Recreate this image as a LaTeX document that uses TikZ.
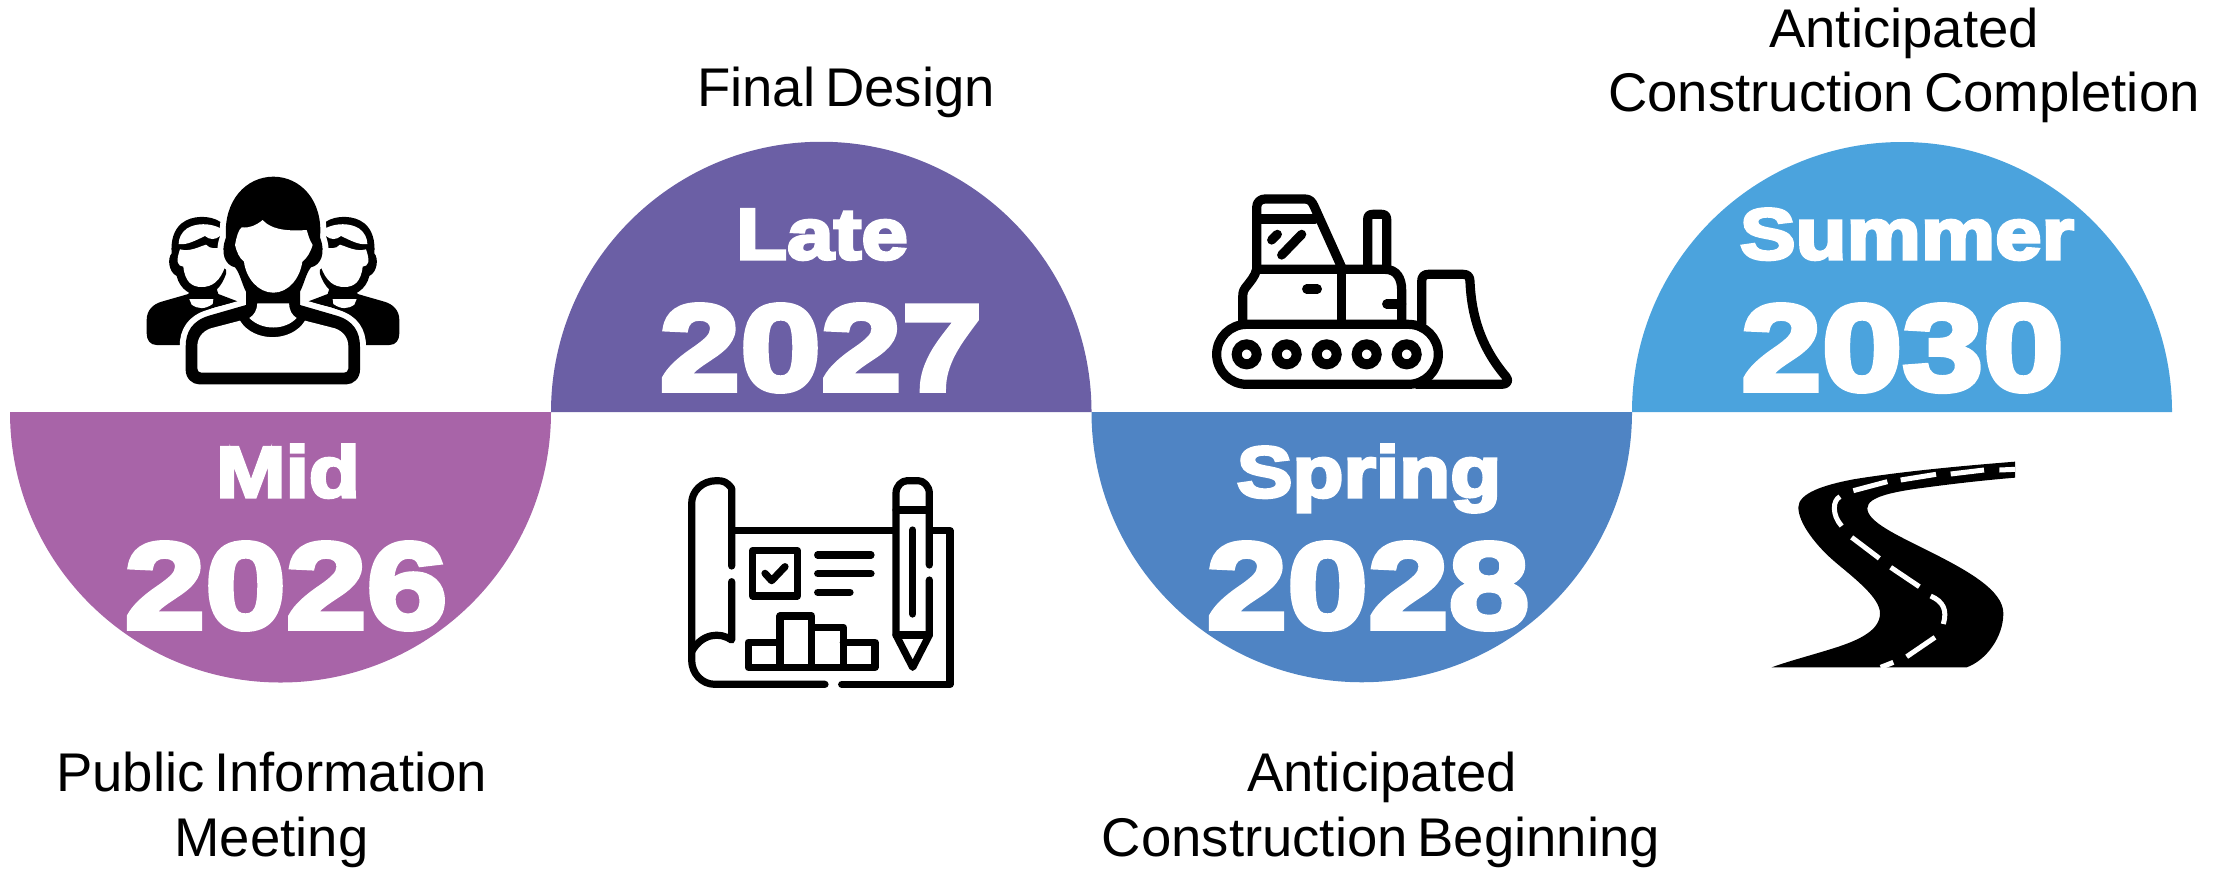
\documentclass[tikz,border=0pt]{standalone}
\usepackage{fontspec}
\setmainfont[WordSpace=0.65]{Liberation Sans}
\newfontfamily\heavy[FakeBold=4.5,FakeStretch=1.16]{Liberation Sans Bold}
\newfontfamily\heavybig[FakeBold=4.5,FakeStretch=1.19]{Liberation Sans Bold}
\definecolor{cMid}{HTML}{A864A8}
\definecolor{cLate}{HTML}{6B5FA5}
\definecolor{cSpring}{HTML}{4F84C4}
\definecolor{cSummer}{HTML}{4BA3DD}
\tikzset{
  small/.style={text=white,inner sep=0pt,anchor=base,font=\heavy\fontsize{72}{72}\selectfont},
  big/.style={text=white,inner sep=0pt,anchor=base,font=\heavybig\fontsize{122}{122}\selectfont},
  caption/.style={text=black,inner sep=0pt,anchor=base,font=\fontsize{54.5}{54.5}\selectfont},
  iconline/.style={draw=black,line cap=round,line join=round,fill=none},
  zoomed/.style={x=0.33333pt,y=-0.33333pt}
}
\begin{document}
\begin{tikzpicture}[x=1pt,y=-1pt]
\useasboundingbox (0,0) rectangle (2223,868);
% half discs
\fill[cMid] (10,412) arc[start angle=180,end angle=360,x radius=270.5,y radius=-270.5] -- cycle;
\fill[cLate] (551,412) arc[start angle=180,end angle=0,x radius=270.25,y radius=-270.25] -- cycle;
\fill[cSpring] (1091.5,412) arc[start angle=180,end angle=360,x radius=270.25,y radius=-270.25] -- cycle;
\fill[cSummer] (1632,412) arc[start angle=180,end angle=0,x radius=270,y radius=-270] -- cycle;
% labels in the discs
\node[small] (mid) at (288,497) {Mid};
\node[big] (y26) at (286,628) {2026};
\node[small] (late) at (822,259) {Late};
\node[big] (y27) at (821,390) {2027};
\node[small] (spring) at (1369,497) {Spring};
\node[big] (y28) at (1368,628) {2028};
\node[small] (summer) at (1907,259) {Summer};
\node[big] (y30) at (1902.5,390) {2030};
% captions
\node[caption] (c1a) at (271.5,791) {Public Information};
\node[caption] (c1b) at (271.5,856) {Meeting};
\node[caption] (c2) at (846,106) {Final Design};
\node[caption] (c3a) at (1382,791) {Anticipated};
\node[caption] (c3b) at (1381,856) {Construction Beginning};
\node[caption] (c4a) at (1904,47) {Anticipated};
\node[caption] (c4b) at (1904,111) {Construction Completion};
% people icon
\begin{scope}[shift={(120,150)},zoomed]
  \foreach \m in {1,-1}{
    \begin{scope}[xshift=153pt,xscale=\m,xshift=-153pt]
      \fill[black] (180,585) -- (110,585) .. controls (90,585) and (80,570) .. (80,550) -- (80,510)
        .. controls (80,480) and (100,462) .. (125,455) -- (205,432) -- (215,400) -- (285,400) -- (295,432) -- (355,455)
        -- (285,472) .. controls (230,490) and (185,520) .. (180,585) -- cycle;
      \fill[white] (208,447) -- (280,447) -- (278,462) .. controls (255,478) and (235,478) .. (215,464) -- cycle;
      \fill[black] (300,215) .. controls (270,195) and (215,195) .. (185,220)
        .. controls (160,240) and (152,275) .. (155,310) .. controls (142,325) and (145,365) .. (170,378)
        .. controls (180,420) and (215,438) .. (245,438) .. controls (280,438) and (305,410) .. (318,372)
        -- (320,220) -- cycle;
      \fill[white] (300,234) .. controls (270,219) and (228,218) .. (200,236)
        .. controls (184,248) and (176,265) .. (176,282) .. controls (200,286) and (225,272) .. (255,258)
        .. controls (270,270) and (285,270) .. (300,258) -- cycle;
      \fill[white] (180,298) .. controls (210,306) and (235,291) .. (258,284)
        .. controls (270,298) and (290,296) .. (310,291) -- (315,350) .. controls (300,395) and (275,411) .. (245,411)
        .. controls (215,411) and (195,395) .. (190,350) .. controls (172,348) and (167,335) .. (180,298) -- cycle;
    \end{scope}
  }
  \path[preaction={draw=white,line width=12pt,line join=round},fill=black]
    (378,465) -- (378,425) .. controls (365,400) and (360,370) .. (345,352)
    .. controls (315,345) and (300,310) .. (318,262) .. controls (310,150) and (380,80) .. (460,80)
    .. controls (540,80) and (610,150) .. (600,262) .. controls (618,310) and (603,345) .. (573,352)
    .. controls (558,370) and (553,400) .. (540,425) -- (540,465) -- (650,497)
    .. controls (700,512) and (720,545) .. (720,590) -- (720,660) .. controls (720,685) and (700,703) .. (680,703)
    -- (237,703) .. controls (217,703) and (197,685) .. (197,660) -- (197,590)
    .. controls (197,545) and (217,512) .. (267,497) -- cycle;
  \fill[white] (345,285) .. controls (350,260) and (355,240) .. (365,232) .. controls (390,235) and (410,225) .. (428,210)
    .. controls (450,235) and (490,245) .. (560,240) .. controls (565,255) and (568,270) .. (578,285)
    .. controls (570,310) and (560,325) .. (547,335) .. controls (540,385) and (505,428) .. (460,428)
    .. controls (415,428) and (378,385) .. (372,335) .. controls (358,325) and (350,305) .. (345,285) -- cycle;
  \fill[white] (412,460) -- (507,460) .. controls (508,480) and (515,495) .. (530,504)
    .. controls (495,542) and (425,542) .. (388,504) .. controls (403,495) and (411,480) .. (412,460) -- cycle;
  \fill[white] (360,512) .. controls (400,578) and (515,578) .. (555,512) -- (645,535)
    .. controls (672,545) and (685,565) .. (685,590) -- (685,655) .. controls (685,663) and (678,668) .. (672,668)
    -- (245,668) .. controls (238,668) and (232,663) .. (232,655) -- (232,590)
    .. controls (232,565) and (245,545) .. (272,535) -- cycle;
\end{scope}
% blueprint icon
\begin{scope}[shift={(670,460)},zoomed,line width=7.2pt]
  \draw[iconline] (185,318) -- (185,85) .. controls (170,65) and (160,62) .. (140,62)
     .. controls (95,62) and (65,95) .. (65,130) -- (65,600)
     .. controls (65,640) and (95,673) .. (135,673) -- (465,673);
  \draw[iconline] (515,673) -- (840,673) -- (840,212) -- (785,212);
  \draw[iconline] (185,212) -- (672,212);
  \draw[iconline] (185,365) -- (185,540) .. controls (150,515) and (95,520) .. (65,575);
  \draw[iconline] (248,272) rectangle (382,408);
  \draw[iconline] (285,340) -- (305,362) -- (345,320);
  \draw[iconline] (443,285) -- (603,285);
  \draw[iconline] (443,341) -- (603,341);
  \draw[iconline] (443,397) -- (540,397);
  \draw[iconline] (330,547) -- (235,547) -- (235,622) -- (615,622) -- (615,547) -- (520,547);
  \draw[iconline] (330,622) -- (330,468) -- (425,468) -- (425,622);
  \draw[iconline] (425,502) -- (520,502) -- (520,622);
  \draw[iconline] (778,315) -- (778,100) .. controls (778,78) and (760,62) .. (745,62) -- (712,62)
     .. controls (695,62) and (678,78) .. (678,100) -- (678,525) -- (728,622) -- (778,525) -- (778,360);
  \draw[iconline] (678,150) -- (778,150);
  \draw[iconline] (678,525) -- (778,525);
  \draw[iconline] (728,210) -- (728,462);
\end{scope}
% bulldozer icon
\begin{scope}[shift={(1200,180)},zoomed,line width=9.2pt]
  \draw[iconline] (140,433) -- (625,433) arc[start angle=90,end angle=-90,x radius=90,y radius=-90] -- (140,613)
     arc[start angle=-90,end angle=-270,x radius=90,y radius=-90] -- cycle;
  \foreach \cx in {140,260,380,500,620}
    \draw[black,line width=10pt] (\cx,523) circle[radius=30];
  \draw[iconline] (665,433) -- (665,305) .. controls (665,290) and (672,283) .. (685,283) -- (790,283)
     .. controls (803,283) and (810,290) .. (810,305) .. controls (815,420) and (850,510) .. (918,590)
     .. controls (928,602) and (922,613) .. (905,613) -- (650,613);
  \draw[iconline] (170,268) -- (170,82) .. controls (170,66) and (182,57) .. (195,57) -- (315,57)
     .. controls (328,57) and (336,64) .. (342,78) -- (425,262);
  \draw[iconline] (170,117) -- (345,117);
  \draw[iconline] (170,268) -- (555,268) .. controls (590,268) and (605,295) .. (605,330) -- (605,433);
  \draw[iconline] (170,268) .. controls (165,290) and (150,305) .. (135,325) .. controls (128,335) and (128,345) .. (128,355) -- (128,433);
  \draw[iconline] (425,268) -- (425,433);
  \draw[iconline] (320,327) -- (352,327);
  \draw[iconline] (560,372) -- (605,372);
  \draw[iconline] (503,268) -- (503,118) .. controls (503,108) and (508,103) .. (518,103) -- (545,103)
     .. controls (555,103) and (560,108) .. (560,118) -- (560,268);
  \draw[iconline] (215,180) -- (232,163);
  \draw[iconline] (245,225) -- (305,163);
\end{scope}
% road icon
\begin{scope}[shift={(1760,450)},zoomed]
  \fill[black] (765,35) .. controls (600,48) and (420,65) .. (280,88)
     .. controls (190,105) and (115,130) .. (115,172) .. controls (115,220) and (170,290) .. (230,340)
     .. controls (290,390) and (360,445) .. (360,490) .. controls (360,540) and (300,570) .. (220,595)
     .. controls (150,617) and (90,632) .. (35,652) -- (620,652)
     .. controls (680,630) and (730,560) .. (730,490) .. controls (730,420) and (620,360) .. (500,300)
     .. controls (410,255) and (322,215) .. (322,175) .. controls (322,140) and (400,125) .. (500,112)
     .. controls (590,100) and (680,90) .. (765,83) -- cycle;
  \begin{scope}[draw=white,line width=5pt]
    \draw (718,60) -- (765,58);
    \draw (572,72) -- (672,60);
    \draw (422,90) -- (528,73);
    \draw (280,122) -- (382,95);
    \draw (240,140) .. controls (218,150) and (215,195) .. (245,228);
    \draw (275,262) -- (358,325);
    \draw (392,352) -- (478,410);
    \draw (512,438) .. controls (550,455) and (562,480) .. (550,522);
    \draw (525,562) -- (440,620);
    \draw (400,637) -- (362,652);
  \end{scope}
\end{scope}
\end{tikzpicture}
\end{document}
